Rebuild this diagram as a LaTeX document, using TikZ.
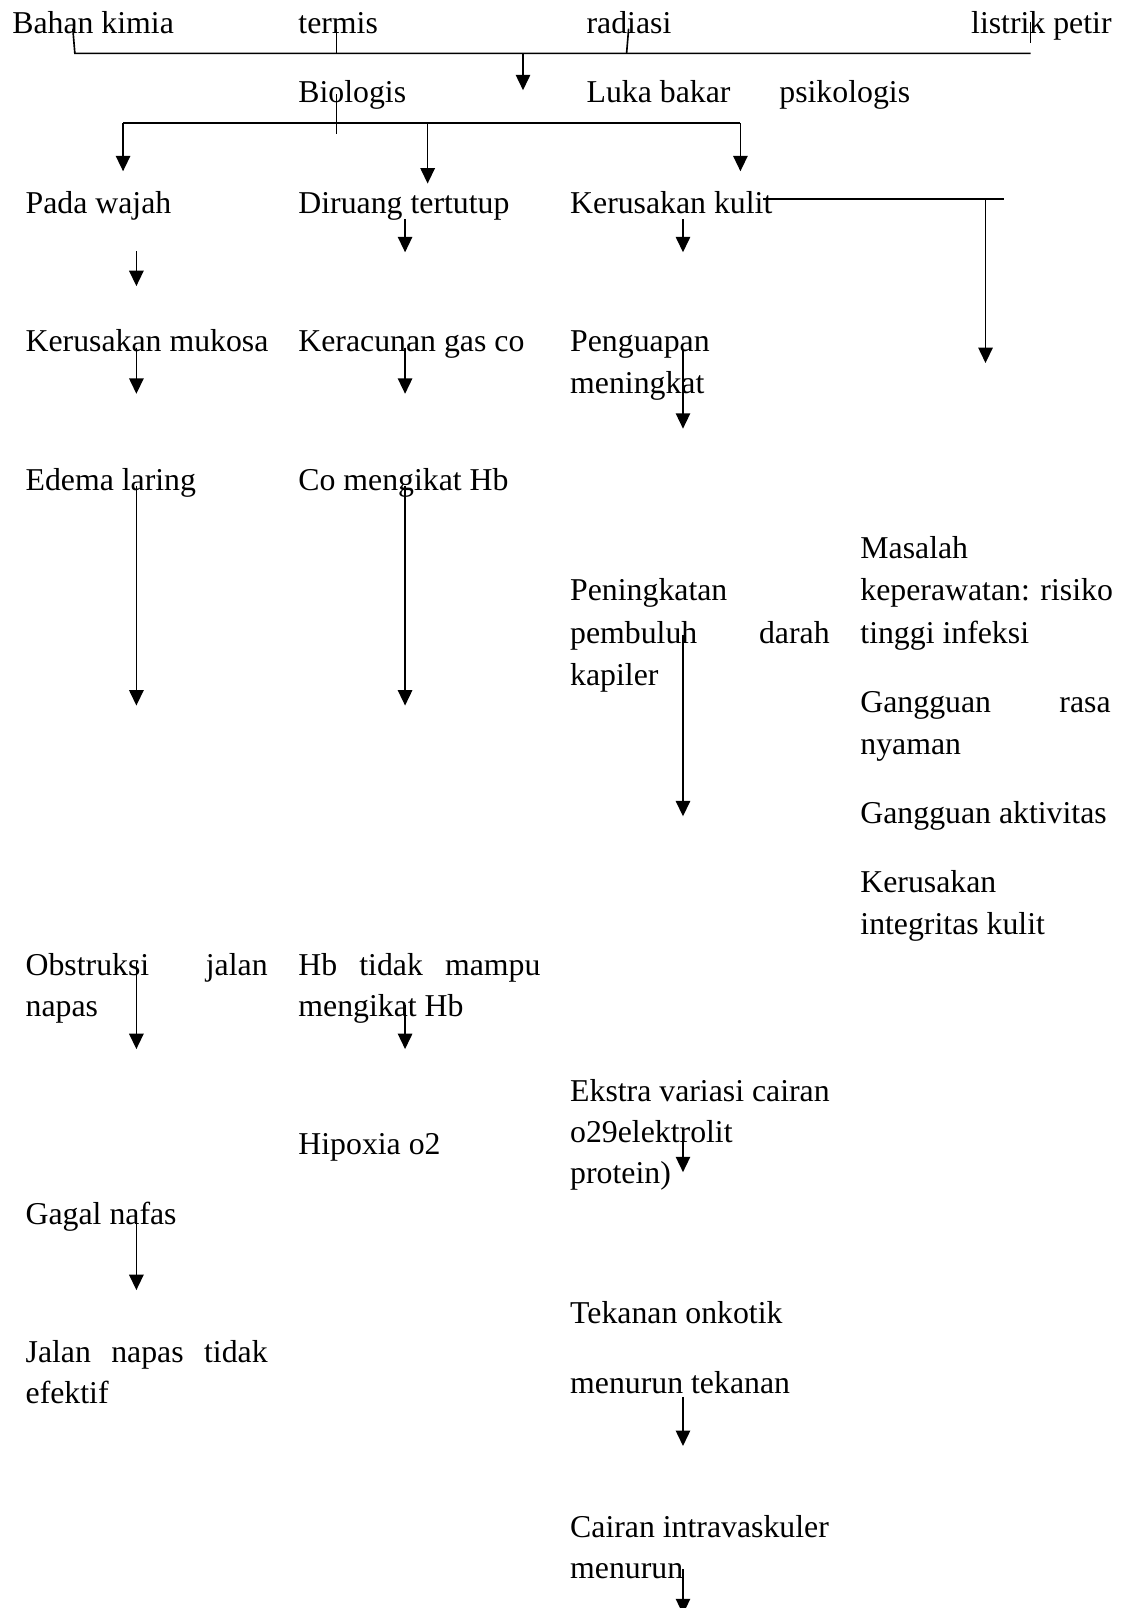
\documentclass[tikz,border=0pt]{standalone}
\usepackage{fontspec}
\setmainfont{Liberation Serif}
\usetikzlibrary{arrows.meta}
\begin{document}
\begin{tikzpicture}[x=1pt,y=-1pt,
  txt/.style={anchor=base west, inner sep=0pt, outer sep=0pt, font=\fontsize{31}{41}\selectfont},
  conn/.style={line width=1.6pt},
  arr/.style={line width=1.6pt, -{Triangle[length=15pt,width=14pt]}}]
\useasboundingbox (0,0) rectangle (1095,1568);
% ---------- texts ----------
\node[txt] (bahan)   at (12,33)  {Bahan kimia};
\node[txt] (termis)  at (291,33) {termis};
\node[txt] (radiasi) at (572,33) {radiasi};
\node[txt] (listrik) at (947,33) {listrik petir};
\node[txt] (biologis) at (291,100) {Biologis};
\node[txt] (luka)    at (572,100) {Luka bakar};
\node[txt] (psiko)   at (760,100) {psikologis};
\node[txt] (pada)    at (25,208)  {Pada wajah};
\node[txt] (diruang) at (291,208) {Diruang tertutup};
\node[txt] (kkulit)  at (556,208) {Kerusakan kulit};
\node[txt] (mukosa)  at (25,343)  {Kerusakan mukosa};
\node[txt] (racun)   at (291,343) {Keracunan gas co};
\node[txt] (uap1)    at (556,343) {Penguapan};
\node[txt] (uap2)    at (556,384) {meningkat};
\node[txt] (edema)   at (25,478)  {Edema laring};
\node[txt] (comeng)  at (291,478) {Co mengikat Hb};
\node[txt] (mas1)    at (839,545) {Masalah};
\node[txt] (mas2)    at (839,586) {keperawatan: risiko};
\node[txt] (mas3)    at (839,627) {tinggi infeksi};
\node[txt] (pen1)    at (556,586) {Peningkatan};
\node[txt] (pen2)    at (556,627) {\makebox[253pt][s]{pembuluh darah}};
\node[txt] (pen3)    at (556,668) {kapiler};
\node[txt] (rasa1)   at (839,695) {\makebox[244pt][s]{Gangguan rasa}};
\node[txt] (rasa2)   at (839,736) {nyaman};
\node[txt] (aktiv)   at (839,803) {Gangguan aktivitas};
\node[txt] (integ1)  at (839,870) {Kerusakan};
\node[txt] (integ2)  at (839,911) {integritas kulit};
\node[txt] (obs1)    at (25,951)  {\makebox[236pt][s]{Obstruksi jalan}};
\node[txt] (obs2)    at (25,991)  {napas};
\node[txt] (hb1)     at (291,951) {\makebox[236pt][s]{Hb tidak mampu}};
\node[txt] (hb2)     at (291,991) {mengikat Hb};
\node[txt] (eks1)    at (556,1074) {Ekstra variasi cairan};
\node[txt] (eks2)    at (556,1114) {o29elektrolit};
\node[txt] (eks3)    at (556,1154) {protein)};
\node[txt] (hipoxia) at (291,1126) {Hipoxia o2};
\node[txt] (gagal)   at (25,1194) {Gagal nafas};
\node[txt] (jalan1)  at (25,1329) {\makebox[236pt][s]{Jalan napas tidak}};
\node[txt] (jalan2)  at (25,1369) {efektif};
\node[txt] (tek)     at (556,1291) {Tekanan onkotik};
\node[txt] (turun)   at (556,1359) {menurun tekanan};
\node[txt] (cair1)   at (556,1499) {Cairan intravaskuler};
\node[txt] (cair2)   at (556,1539) {menurun};
% ---------- coordinates ----------
\coordinate (tb1) at (71,28);   \coordinate (tb2) at (73,52);
\coordinate (tt1) at (328,28);  \coordinate (tt2) at (328,52);
\coordinate (tr1) at (613,28);  \coordinate (tr2) at (611,52);
\coordinate (tl1) at (1005,21); \coordinate (tl2) at (1005,42);
\coordinate (l1e) at (1005,52);
\coordinate (a0s) at (510,52);  \coordinate (a0e) at (510,88);
\coordinate (bg1) at (328,92);  \coordinate (bg2) at (328,131);
\coordinate (l2s) at (120,120); \coordinate (l2e) at (722,120);
\coordinate (a1e) at (120,167);
\coordinate (a2s) at (417,120); \coordinate (a2e) at (417,179);
\coordinate (a3e) at (722,167);
\coordinate (l3s) at (744,194); \coordinate (l3e) at (979,194);
\coordinate (a4s) at (961,194); \coordinate (a4e) at (961,354);
\coordinate (p1s) at (133,245); \coordinate (p1e) at (133,279);
\coordinate (d1s) at (395,214); \coordinate (d1e) at (395,246);
\coordinate (k1s) at (666,214); \coordinate (k1e) at (666,246);
\coordinate (m1s) at (133,339); \coordinate (m1e) at (133,384);
\coordinate (r1s) at (395,339); \coordinate (r1e) at (395,384);
\coordinate (u1s) at (666,341); \coordinate (u1e) at (666,418);
\coordinate (e1s) at (133,474); \coordinate (e1e) at (133,688);
\coordinate (c1s) at (395,474); \coordinate (c1e) at (395,688);
\coordinate (n1s) at (666,619); \coordinate (n1e) at (666,796);
\coordinate (o1s) at (133,938); \coordinate (o1e) at (133,1023);
\coordinate (h1s) at (395,980); \coordinate (h1e) at (395,1023);
\coordinate (x1s) at (666,1105); \coordinate (x1e) at (666,1143);
\coordinate (g1s) at (133,1183); \coordinate (g1e) at (133,1258);
\coordinate (t1s) at (666,1362); \coordinate (t1e) at (666,1410);
\coordinate (z1s) at (666,1530); \coordinate (z1e) at (666,1574);
% ---------- connectors ----------
\draw[conn] (tb1) -- (tb2) -- (l1e);
\draw[conn] (tt1) -- (tt2);
\draw[conn] (tr1) -- (tr2);
\draw[conn] (tl1) -- (tl2);
\draw[arr] (a0s) -- (a0e);
\draw[conn] (bg1) -- (bg2);
\draw[conn] (l2s) -- (l2e);
\draw[arr] (l2s) -- (a1e);
\draw[arr] (a2s) -- (a2e);
\draw[arr] (l2e) -- (a3e);
\draw[conn] (l3s) -- (l3e);
\draw[arr] (a4s) -- (a4e);
\draw[arr] (p1s) -- (p1e);
\draw[arr] (d1s) -- (d1e);
\draw[arr] (k1s) -- (k1e);
\draw[arr] (m1s) -- (m1e);
\draw[arr] (r1s) -- (r1e);
\draw[arr] (u1s) -- (u1e);
\draw[arr] (e1s) -- (e1e);
\draw[arr] (c1s) -- (c1e);
\draw[arr] (n1s) -- (n1e);
\draw[arr] (o1s) -- (o1e);
\draw[arr] (h1s) -- (h1e);
\draw[arr] (x1s) -- (x1e);
\draw[arr] (g1s) -- (g1e);
\draw[arr] (t1s) -- (t1e);
\draw[arr] (z1s) -- (z1e);
\end{tikzpicture}
\end{document}
